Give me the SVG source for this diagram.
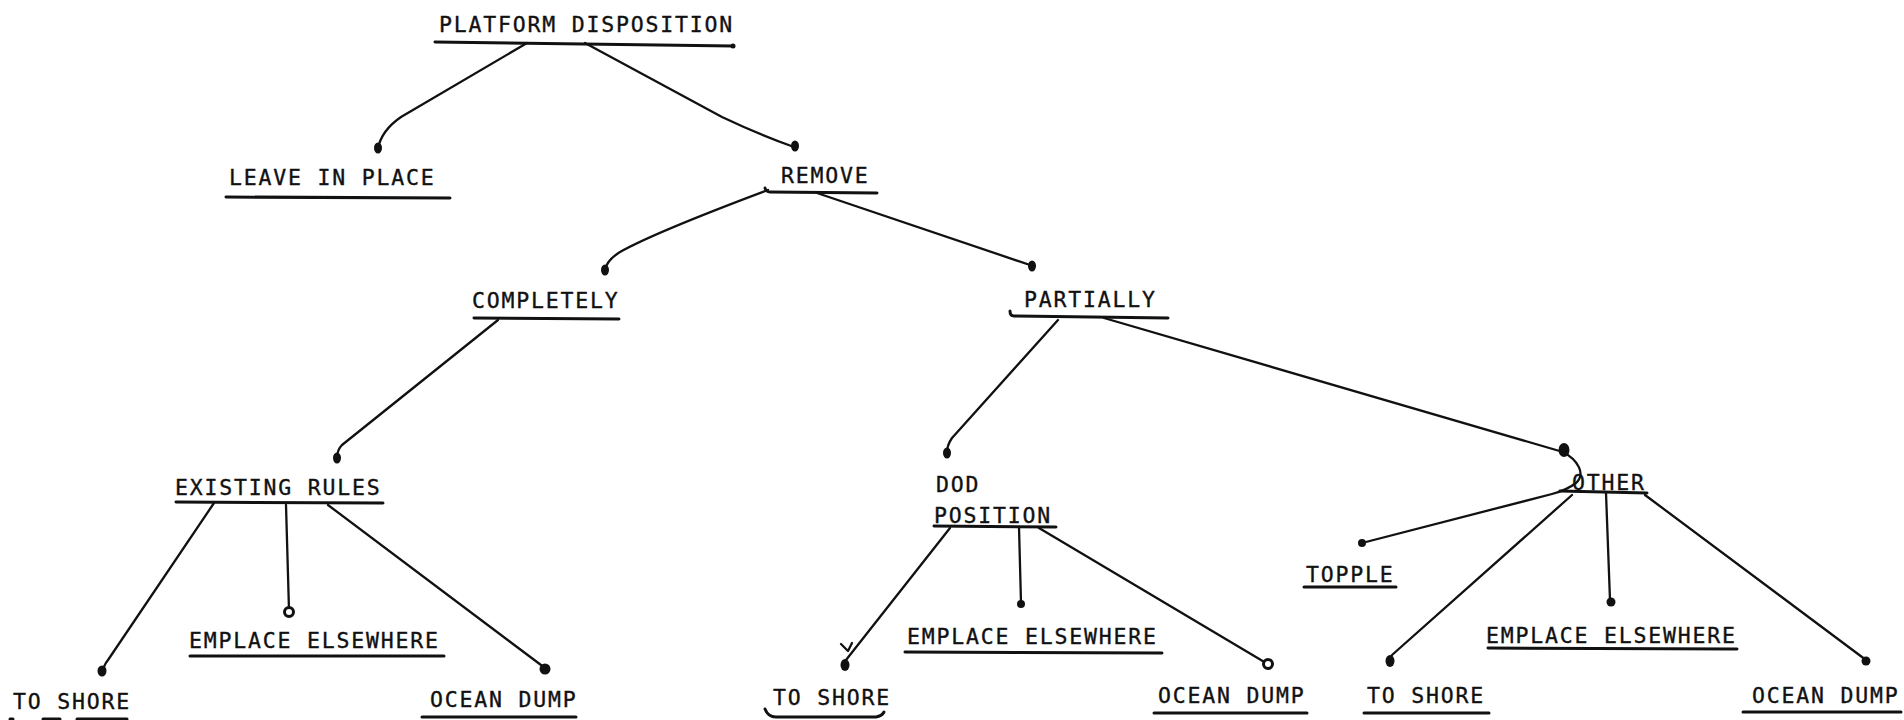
<svg xmlns="http://www.w3.org/2000/svg" width="1904" height="720" viewBox="0 0 1904 720">
<style>
  text { font-family: "DejaVu Sans Mono", "Liberation Mono", monospace; font-size: 21.5px; letter-spacing: 1.8px; fill: #111; stroke: #111; stroke-width: 0.35; }
  .ul { stroke: #111; stroke-width: 3; fill: none; stroke-linecap: round; }
  .cn { stroke: #111; stroke-width: 2.3; fill: none; stroke-linecap: round; stroke-linejoin: round; }
  .dot { fill: #111; }
  .hollow { fill: #fff; stroke: #111; stroke-width: 3; }
</style>
<rect width="1904" height="720" fill="#fff"/>

<g id="connectors">
  <path class="cn" d="M527,43 L401,117 Q382,130 378,148"/>
  <path class="cn" d="M585,43 L722,117 Q760,135 794,147"/>
  <path class="cn" d="M768,190 C720,208 650,235 620,252 Q607,260 605,270"/>
  <path class="cn" d="M817,193 L1030,265"/>
  <path class="cn" d="M498,320 L342,445 Q337,450 337,458"/>
  <path class="cn" d="M1058,320 L952,438 Q947,445 947,453"/>
  <path class="cn" d="M1104,318 L1563,452"/>
  <path class="cn" d="M1563,452 C1578,460 1586,474 1576,483 Q1567,490 1552,494 L1362,543"/>
  <path class="cn" d="M214,503 L108,660 Q103,666 103,673"/>
  <path class="cn" d="M286,505 L289,610"/>
  <path class="cn" d="M328,505 L545,668"/>
  <path class="cn" d="M950,528 L846,660 Q844,664 845,667"/>
  <path class="cn" d="M841,644 L848,651 L852,643"/>
  <path class="cn" d="M1019,527 L1021,603"/>
  <path class="cn" d="M1039,528 L1266,663"/>
  <path class="cn" d="M1572,495 L1392,655 Q1389,660 1390,662"/>
  <path class="cn" d="M1606,493 L1610,600"/>
  <path class="cn" d="M1645,495 L1866,660"/>
  <ellipse class="dot" cx="378" cy="148" rx="4" ry="5.5"/>
  <ellipse class="dot" cx="795" cy="146" rx="4" ry="5.5"/>
  <ellipse class="dot" cx="605" cy="270" rx="4" ry="5.5"/>
  <ellipse class="dot" cx="1032" cy="266" rx="4" ry="5.5"/>
  <ellipse class="dot" cx="337" cy="458" rx="4" ry="5.5"/>
  <ellipse class="dot" cx="947" cy="453" rx="4" ry="5.5"/>
  <ellipse class="dot" cx="1564" cy="450" rx="5.5" ry="7"/>
  <circle class="dot" cx="1362" cy="543" r="4"/>
  <ellipse class="dot" cx="102" cy="671" rx="4.5" ry="5.5"/>
  <circle class="hollow" cx="289" cy="612" r="4.5"/>
  <circle class="dot" cx="545" cy="669" r="5.5"/>
  <ellipse class="dot" cx="845" cy="665" rx="4.5" ry="6"/>
  <circle class="dot" cx="1021" cy="604" r="4"/>
  <circle class="hollow" cx="1268" cy="664" r="4.5"/>
  <ellipse class="dot" cx="1390" cy="661" rx="4.5" ry="6"/>
  <circle class="dot" cx="1611" cy="602" r="4.5"/>
  <circle class="dot" cx="1866" cy="661" r="4.5"/>
</g>

<g id="platform-disposition">
  <text x="439" y="32">PLATFORM DISPOSITION</text>
  <path class="ul" d="M435,42 L733,46"/>
  <circle class="dot" cx="733" cy="46" r="2.5"/>
</g>
<g id="leave-in-place">
  <text x="229" y="185">LEAVE IN PLACE</text>
  <path class="ul" d="M226,197 L450,198"/>
</g>
<g id="remove">
  <text x="781" y="183">REMOVE</text>
  <path class="ul" d="M765,188 Q766,192 770,192 L877,193"/>
</g>
<g id="completely">
  <text x="472" y="308">COMPLETELY</text>
  <path class="ul" d="M474,318 L619,319"/>
</g>
<g id="partially">
  <text x="1024" y="307">PARTIALLY</text>
  <path class="ul" d="M1010,311 Q1010,316 1014,316 L1168,318"/>
</g>
<g id="existing-rules">
  <text x="175" y="495">EXISTING RULES</text>
  <path class="ul" d="M176,502 L383,503"/>
</g>
<g id="dod-position">
  <text x="936" y="492">DOD</text>
  <text x="934" y="523">POSITION</text>
  <path class="ul" d="M934,526 L1056,527"/>
</g>
<g id="other">
  <text x="1572" y="490">OTHER</text>
  <path class="ul" d="M1560,491 L1647,493"/>
</g>
<g id="topple">
  <text x="1306" y="582">TOPPLE</text>
  <path class="ul" d="M1304,587 L1396,587"/>
</g>
<g id="to-shore-1">
  <text x="13" y="709">TO SHORE</text>
  <path class="ul" d="M10,719 L13,719 M43,719 L60,719 M77,719 L127,719"/>
</g>
<g id="emplace-elsewhere-1">
  <text x="189" y="648">EMPLACE ELSEWHERE</text>
  <path class="ul" d="M190,656 L444,656"/>
</g>
<g id="ocean-dump-1">
  <text x="430" y="707">OCEAN DUMP</text>
  <path class="ul" d="M422,717 L576,717"/>
</g>
<g id="to-shore-2">
  <text x="773" y="705">TO SHORE</text>
  <path class="ul" d="M765,709 Q768,717 776,717 L876,717 Q882,716 884,712"/>
</g>
<g id="emplace-elsewhere-2">
  <text x="907" y="644">EMPLACE ELSEWHERE</text>
  <path class="ul" d="M905,652 L1162,653"/>
</g>
<g id="ocean-dump-2">
  <text x="1158" y="703">OCEAN DUMP</text>
  <path class="ul" d="M1154,713 L1307,713"/>
</g>
<g id="to-shore-3">
  <text x="1367" y="703">TO SHORE</text>
  <path class="ul" d="M1364,713 L1489,713"/>
</g>
<g id="emplace-elsewhere-3">
  <text x="1486" y="643">EMPLACE ELSEWHERE</text>
  <path class="ul" d="M1488,648 L1737,649"/>
</g>
<g id="ocean-dump-3">
  <text x="1752" y="703">OCEAN DUMP</text>
  <path class="ul" d="M1743,712 L1901,712"/>
</g>
</svg>
